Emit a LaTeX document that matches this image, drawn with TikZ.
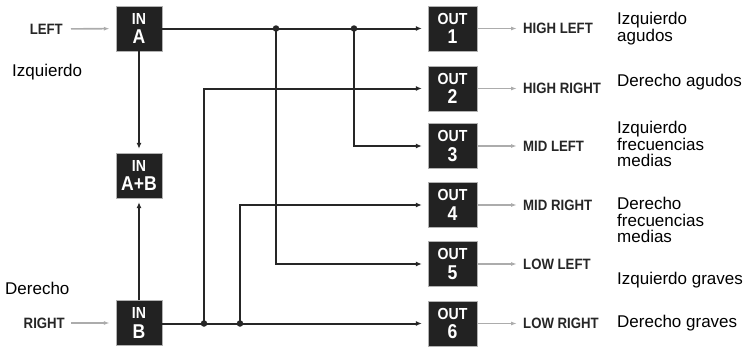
\documentclass[tikz,border=0pt]{standalone}
\usepackage{fontspec}
\setmainfont{Liberation Sans}
\newfontfamily\condfont{Liberation Sans}[FakeStretch=0.88]
\usepackage{tikz}
\usetikzlibrary{arrows.meta,positioning}

\newcommand{\boxtext}[2]{{\fontsize{16}{16}\selectfont #1}\\[3.5pt]{\fontsize{20}{18}\selectfont #2}}

\begin{document}
\begin{tikzpicture}[
  x=1pt, y=-1pt,
  box/.style={draw=gray!60, fill={rgb,255:red,34;green,34;blue,34}, text=white,
    minimum width=46pt, minimum height=45pt, inner sep=0pt, align=center,
    font=\condfont\bfseries\fontsize{16}{16}\selectfont},
  obox/.style={box, minimum width=49pt},
  tag/.style={font=\condfont\bfseries\fontsize{15}{15}\selectfont,
    text=black!85, inner sep=0pt},
  note/.style={anchor=west, align=left, inner sep=0pt,
    font=\fontsize{17}{16.8}\selectfont},
  sig/.style={-{Latex[length=6pt,width=5pt]}, line width=2pt, black!85},
  feed/.style={-{Latex[length=6pt,width=4pt]}, line width=1.6pt, gray!65},
  dot/.style={circle, fill=black!85, inner sep=0pt, minimum size=6.5pt},
]
\useasboundingbox (0,0) rectangle (755,348);

% Inputs
\node[box] (inA) at (139,28.5) {\boxtext{IN}{A}};
\node[box] (inAB) at (139,175.5) {\boxtext{IN}{A+B}};
\node[box] (inB) at (139,323) {\boxtext{IN}{B}};

\node[tag, anchor=east] (left) at (63,29) {LEFT};
\node[tag, anchor=east] (right) at (65,323) {RIGHT};
\node[note] (izq) at (12,72) {Izquierdo};
\node[note] (der) at (5,288) {Derecho};

% Outputs
\foreach \n/\y/\t in {1/28.5/HIGH LEFT, 2/88.5/HIGH RIGHT, 3/146/MID LEFT,
                      4/205/MID RIGHT, 5/264/LOW LEFT, 6/323.5/LOW RIGHT} {
  \node[obox] (out\n) at (452.5,\y) {\boxtext{OUT}{\n}};
  \node[tag, anchor=west] (tag\n) at (523,\y) {\t};
  \draw[feed, shorten <=1pt, shorten >=6pt] (out\n) -- (tag\n);
}

\node[note] (n1) at (617,29) {Izquierdo\\agudos};
\node[note] (n2) at (617,82) {Derecho agudos};
\node[note] (n3) at (617,144) {Izquierdo\\frecuencias\\medias};
\node[note] (n4) at (617,220) {Derecho\\frecuencias\\medias};
\node[note] (n5) at (617,280) {Izquierdo graves};
\node[note] (n6) at (617,323) {Derecho graves};

% Junctions
\node[dot] (jA1) at (276,28.5) {};
\node[dot] (jA2) at (354,28.5) {};
\node[dot] (jB1) at (204,323.5) {};
\node[dot] (jB2) at (240,323.5) {};

% Arrows
\draw[feed, shorten <=8pt, shorten >=6pt] (left) -- (inA);
\draw[feed, shorten <=6pt, shorten >=6pt] (right) -- (inB);
\draw[sig, shorten >=4pt] (inA) -- (inAB);
\draw[sig, shorten >=4pt] (inB) -- (inAB);
\draw[sig, shorten >=6pt] (inA) -- (out1);
\draw[sig, shorten >=6pt] (inB.east |- out6) -- (out6);
\draw[sig, shorten >=6pt] (jA2.center) |- (out3);
\draw[sig, shorten >=6pt] (jA1.center) |- (out5);
\draw[sig, shorten >=6pt] (jB1.center) |- (out2);
\draw[sig, shorten >=6pt] (jB2.center) |- (out4);

\end{tikzpicture}
\end{document}
